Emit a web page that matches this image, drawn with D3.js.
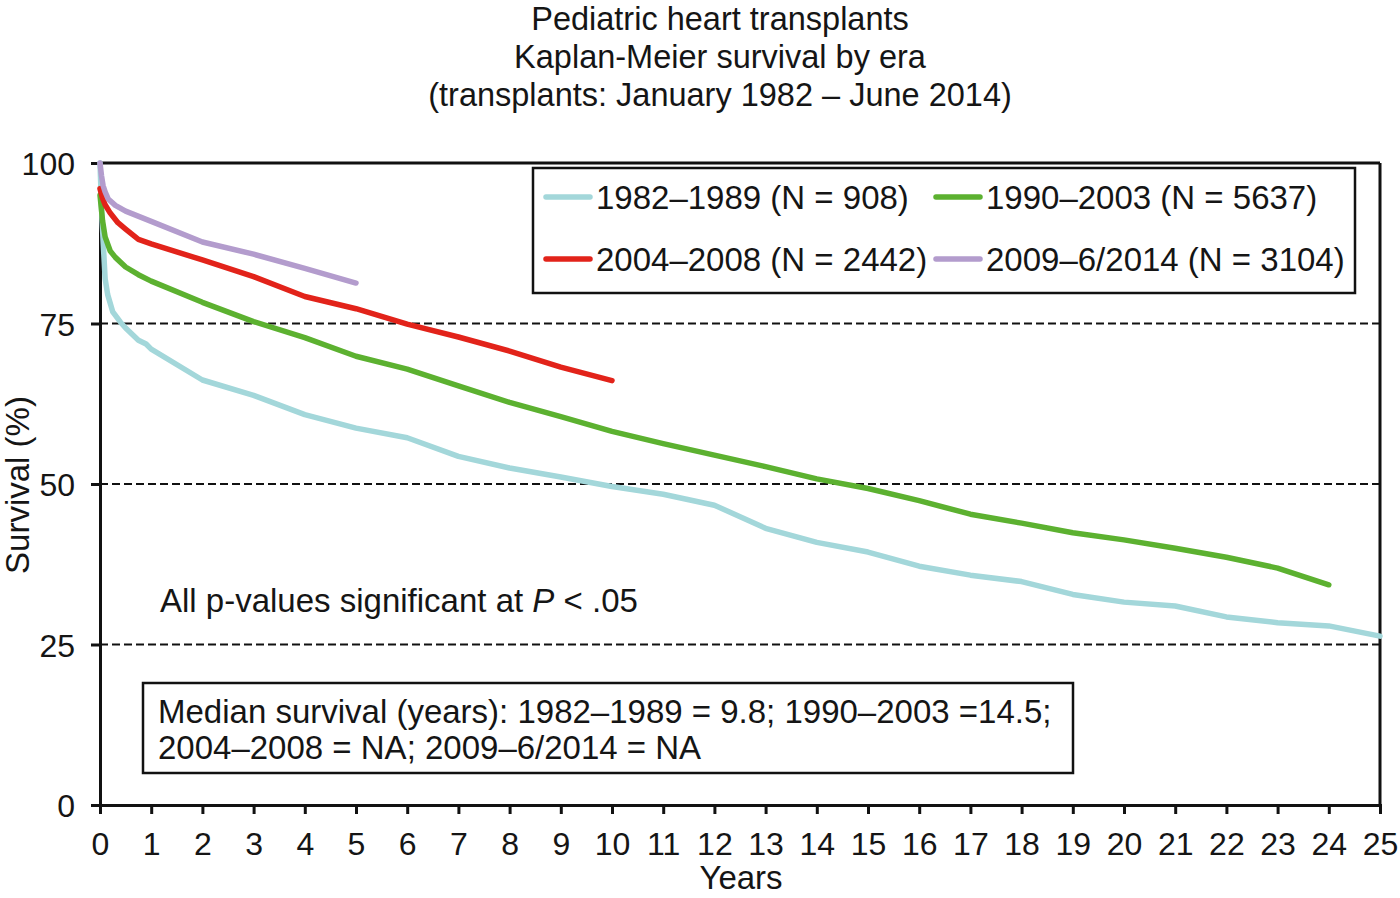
<!DOCTYPE html>
<html><head><meta charset="utf-8">
<script src="https://cdn.jsdelivr.net/npm/d3@7"></script>
<style>body{margin:0;background:#fff}svg{display:block}text{font-family:"Liberation Sans",Arial,sans-serif;fill:#151515}</style>
</head><body>
<svg id="c" width="1400" height="898"></svg>
<script>
const titleLines = ["Pediatric heart transplants", "Kaplan-Meier survival by era", "(transplants: January 1982 \u2013 June 2014)"];
const xTicks = [0,1,2,3,4,5,6,7,8,9,10,11,12,13,14,15,16,17,18,19,20,21,22,23,24,25];
const yTicks = [0,25,50,75,100];
const gridValues = [25,50,75];
const seriesNames = ["1982\u20131989 (N = 908)", "1990\u20132003 (N = 5637)", "2004\u20132008 (N = 2442)", "2009\u20136/2014 (N = 3104)"];
const seriesColors = ["#a3d7da", "#5cb130", "#e2231a", "#b39ccd"];

const t1 = [0,0.03,0.06,0.1,0.15,0.25,0.4,0.5,0.75,0.9,1,2,3,4,5,6,7,8,9,10,11,12,13,14,15,16,17,18,19,20,21,22,23,24,25];
const s1 = [100,93,88,82,79.5,76.8,75.2,74.3,72.4,71.8,71,66.2,63.8,60.8,58.7,57.2,54.3,52.5,51.1,49.6,48.4,46.7,43.1,40.9,39.4,37.2,35.8,34.8,32.8,31.6,31.0,29.3,28.4,27.9,26.3];
const t2 = [0,0.05,0.1,0.2,0.3,0.5,0.75,1,2,3,4,5,6,7,8,9,10,11,12,13,14,15,16,17,18,19,20,21,22,23,24];
const s2 = [95,91,88.5,86.3,85.3,83.8,82.6,81.6,78.3,75.3,72.8,69.9,67.9,65.3,62.7,60.5,58.2,56.3,54.5,52.7,50.8,49.3,47.4,45.3,43.9,42.4,41.3,40.0,38.6,36.9,34.3];
const t3 = [0,0.05,0.1,0.2,0.35,0.5,0.75,1,2,3,4,5,6,7,8,9,10];
const s3 = [96,94.5,93.5,92.2,90.7,89.7,88.1,87.4,84.9,82.3,79.2,77.3,74.9,72.9,70.7,68.2,66.1];
const t4 = [0,0.03,0.06,0.1,0.16,0.3,0.5,1,2,3,4,5];
const s4 = [100,98,96.5,95.5,94.4,93.4,92.5,90.9,87.7,85.8,83.6,81.3];
const pNote = "All p-values significant at ";
const medianLines = ["Median survival (years): 1982\u20131989 = 9.8; 1990\u20132003 =14.5;", "2004\u20132008 = NA; 2009\u20136/2014 = NA"];

const svg = d3.select("#c");
const L = 100, R = 1380, T = 163, B = 805;
const x = d3.scaleLinear().domain([0,25]).range([L,R]);
const y = d3.scaleLinear().domain([0,100]).range([B,T]);

// title
svg.selectAll(".title").data(titleLines).enter().append("text")
  .attr("x", 720).attr("y", (d,i)=>30+i*38).attr("text-anchor","middle")
  .attr("font-size", 32.5).text(d=>d);

// grid
svg.selectAll(".grid").data(gridValues).enter().append("line")
  .attr("x1", L).attr("x2", R).attr("y1", d=>y(d)).attr("y2", d=>y(d))
  .attr("stroke","#111").attr("stroke-width",2.2).attr("stroke-dasharray","8,4");

// frame top/right
svg.append("line").attr("x1",L).attr("x2",R).attr("y1",T).attr("y2",T).attr("stroke","#111").attr("stroke-width",3);
svg.append("line").attr("x1",R).attr("x2",R).attr("y1",T).attr("y2",B).attr("stroke","#111").attr("stroke-width",3);

// axes
const xa = svg.append("g").attr("transform",`translate(0,${B})`)
  .call(d3.axisBottom(x).tickValues(xTicks).tickSize(9).tickPadding(18).tickFormat(d3.format("d")));
const ya = svg.append("g").attr("transform",`translate(${L},0)`)
  .call(d3.axisLeft(y).tickValues(yTicks).tickSize(9).tickPadding(16).tickFormat(d3.format("d")));
[xa,ya].forEach(a=>{
  a.select(".domain").attr("stroke","#111").attr("stroke-width",3);
  a.selectAll(".tick line").attr("stroke","#111").attr("stroke-width",3);
  a.selectAll(".tick text").attr("font-size",32).attr("fill","#151515")
   .style("font-family","Liberation Sans, Arial, sans-serif");
});
xa.selectAll(".tick text").attr("dy","0.71em");
ya.selectAll(".tick text").attr("dy","0.36em");
svg.append("text").attr("x",741).attr("y",889).attr("text-anchor","middle").attr("font-size",33).text("Years");
svg.append("text").attr("transform","translate(29,485) rotate(-90)").attr("text-anchor","middle").attr("font-size",33).text("Survival (%)");

// series
const line = d3.line().x(d=>x(d[0])).y(d=>y(d[1]));
const series = [[t1,s1],[t2,s2],[t3,s3],[t4,s4]].map(([t,s])=>t.map((v,i)=>[v,s[i]]));
const order = [0,1,2,3];
svg.selectAll(".series").data(order).enter().append("path")
  .attr("d", i=>line(series[i])).attr("fill","none")
  .attr("stroke", i=>seriesColors[i]).attr("stroke-width",5.5)
  .attr("stroke-linejoin","round").attr("stroke-linecap","round");

// legend
svg.append("rect").attr("x",533).attr("y",168).attr("width",822).attr("height",125)
  .attr("fill","#fff").attr("stroke","#111").attr("stroke-width",2.5);
const legPos = [[546,197],[936,197],[546,259],[936,259]];
order.forEach(i=>{
  const [lx,ly] = legPos[i];
  svg.append("line").attr("x1",lx).attr("x2",lx+44).attr("y1",ly).attr("y2",ly)
    .attr("stroke",seriesColors[i]).attr("stroke-width",5.5).attr("stroke-linecap","round");
  svg.append("text").attr("x",lx+50).attr("y",ly+12).attr("font-size",33).text(seriesNames[i]);
});

// notes
const pn = svg.append("text").attr("x",160).attr("y",612).attr("font-size",33);
pn.append("tspan").text(pNote);
pn.append("tspan").attr("font-style","italic").text("P");
pn.append("tspan").text(" < .05");

svg.append("rect").attr("x",143).attr("y",683).attr("width",930).attr("height",90)
  .attr("fill","#fff").attr("stroke","#111").attr("stroke-width",2.5);
svg.selectAll(".med").data(medianLines).enter().append("text")
  .attr("x",158).attr("y",(d,i)=>723+i*36).attr("font-size",33).text(d=>d);
</script>
</body></html>
